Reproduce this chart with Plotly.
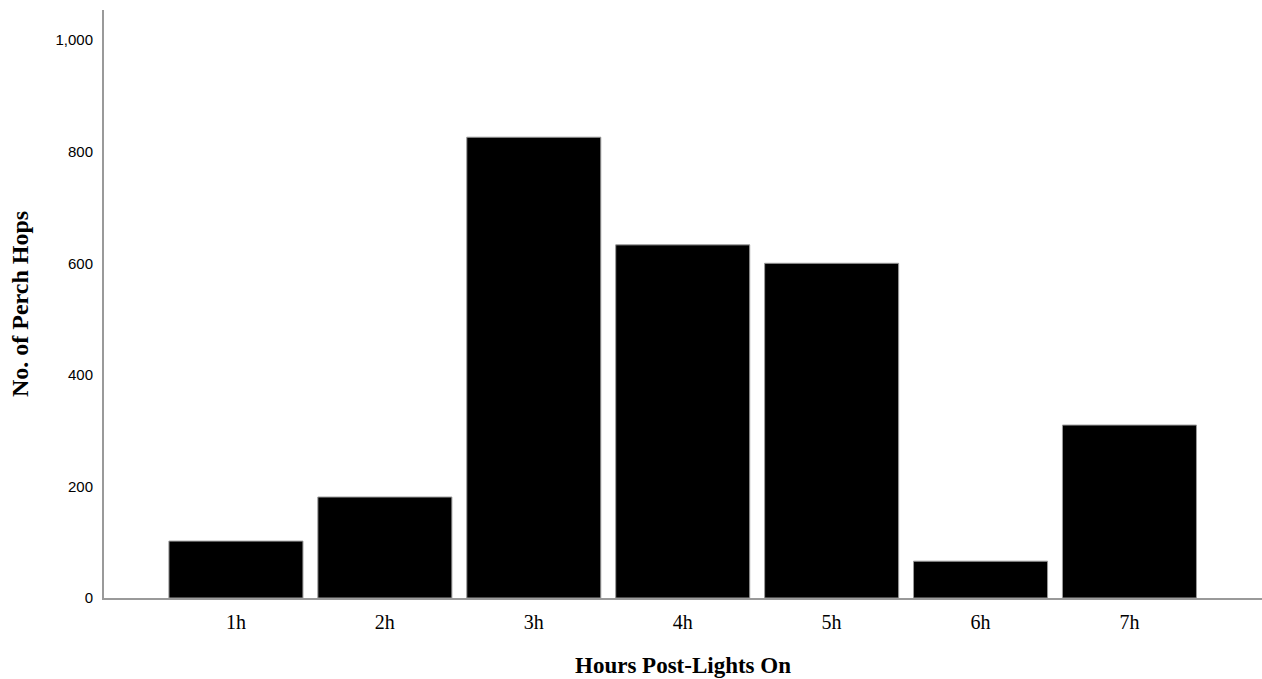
import plotly.graph_objects as go

categories = ["1h", "2h", "3h", "4h", "5h", "6h", "7h"]
perch_hops = [102, 181, 826, 633, 600, 66, 310]
y_ticks = [0, 200, 400, 600, 800, 1000]

fig = go.Figure(
    go.Bar(
        x=categories,
        y=perch_hops,
        marker=dict(color="black", line=dict(color="#9a9a9a", width=1)),
    )
)

fig.update_layout(
    width=1262,
    height=679,
    paper_bgcolor="white",
    plot_bgcolor="white",
    margin=dict(l=104, r=0, t=10, b=81),
    bargap=0.1,
    showlegend=False,
    xaxis=dict(
        range=[-0.886, 6.89],
        showline=True,
        linecolor="#9a9a9a",
        linewidth=2,
        showgrid=False,
        ticks="outside",
        ticklen=5,
        tickcolor="white",
        tickfont=dict(family="Liberation Serif", size=20, color="black"),
        title=dict(
            text="<b>Hours Post-Lights On</b>",
            font=dict(family="Liberation Serif", size=23, color="black"),
            standoff=25,
        ),
    ),
    yaxis=dict(
        range=[0, 1054],
        tickvals=y_ticks,
        tickformat=",d",
        showline=True,
        linecolor="#9a9a9a",
        linewidth=2,
        showgrid=False,
        zeroline=False,
        ticks="outside",
        ticklen=6,
        tickcolor="white",
        tickfont=dict(family="Liberation Sans", size=15, color="black"),
        title=dict(
            text="<b>No. of Perch Hops</b>",
            font=dict(family="Liberation Serif", size=24, color="black"),
            standoff=20,
        ),
    ),
)

fig.write_html(
    "out.html",
    config={"displayModeBar": False},
    post_script="document.body.style.margin='0';document.body.style.overflow='hidden';",
)
